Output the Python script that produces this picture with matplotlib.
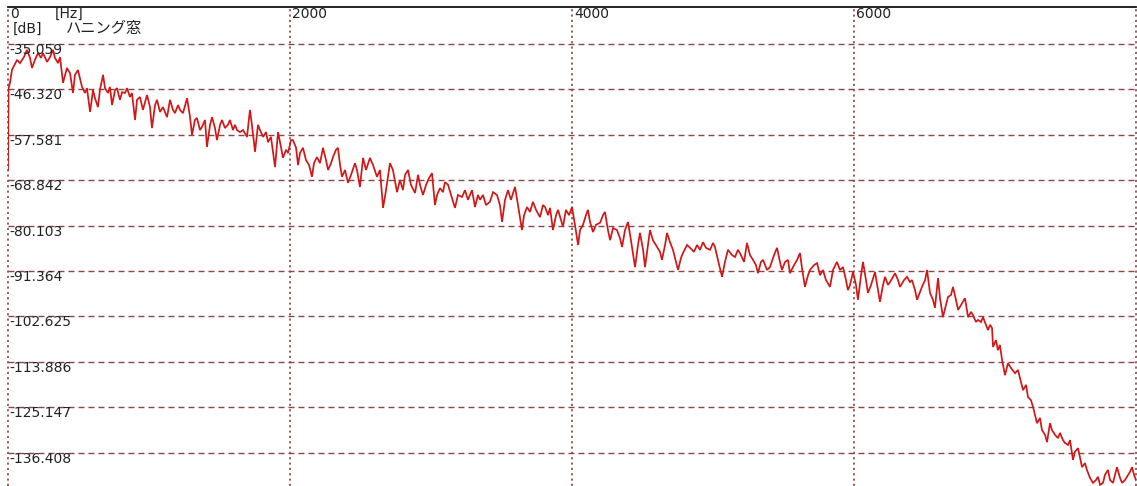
import matplotlib
matplotlib.use("Agg")
import matplotlib.pyplot as plt

# ---------------- data ----------------
freq_hz = [0, 4, 14, 28, 64, 85, 113, 135, 156, 170, 191, 213, 234, 248, 277, 298, 319, 333, 355, 369,
           390, 418, 440, 461, 475, 496, 525, 546, 560, 582, 603, 617, 638, 652, 674, 688, 709, 723, 738, 759,
           773, 794, 809, 830, 844, 865, 879, 901, 915, 936, 957, 986, 1007, 1021, 1043, 1057, 1078, 1099, 1128, 1149,
           1170, 1184, 1206, 1220, 1241, 1270, 1291, 1305, 1326, 1340, 1362, 1376, 1397, 1411, 1433, 1447, 1468, 1482, 1504, 1518,
           1539, 1560, 1574, 1596, 1610, 1624, 1645, 1667, 1695, 1716, 1730, 1752, 1773, 1787, 1809, 1830, 1844, 1865, 1894, 1915,
           1936, 1950, 1972, 1986, 2007, 2021, 2043, 2057, 2071, 2092, 2113, 2135, 2156, 2170, 2191, 2213, 2234, 2255, 2270, 2291,
           2305, 2326, 2340, 2355, 2369, 2390, 2411, 2433, 2461, 2475, 2496, 2518, 2539, 2567, 2589, 2617, 2638, 2660, 2681, 2709,
           2730, 2759, 2780, 2801, 2816, 2837, 2858, 2887, 2908, 2922, 2943, 2965, 2986, 3007, 3028, 3043, 3064, 3085, 3099, 3121,
           3142, 3170, 3191, 3220, 3241, 3262, 3291, 3312, 3333, 3348, 3369, 3390, 3418, 3440, 3468, 3489, 3504, 3525, 3546, 3567,
           3596, 3617, 3645, 3660, 3681, 3702, 3723, 3745, 3773, 3794, 3809, 3830, 3844, 3865, 3887, 3901, 3922, 3936, 3957, 3979,
           4000, 4021, 4043, 4057, 4078, 4099, 4113, 4128, 4149, 4170, 4199, 4220, 4234, 4255, 4270, 4291, 4319, 4340, 4355, 4376,
           4397, 4418, 4447, 4468, 4482, 4504, 4518, 4539, 4553, 4574, 4603, 4624, 4638, 4660, 4674, 4695, 4716, 4738, 4752, 4773,
           4787, 4816, 4837, 4865, 4887, 4908, 4929, 4950, 4979, 5000, 5014, 5035, 5064, 5085, 5106, 5135, 5156, 5177, 5191, 5220,
           5241, 5262, 5284, 5305, 5319, 5340, 5355, 5383, 5404, 5433, 5454, 5475, 5489, 5511, 5532, 5546, 5567, 5596, 5617, 5631,
           5652, 5674, 5688, 5716, 5738, 5759, 5780, 5801, 5830, 5851, 5879, 5901, 5922, 5943, 5957, 5972, 5993, 6014, 6028, 6050,
           6064, 6085, 6099, 6121, 6149, 6170, 6184, 6206, 6220, 6241, 6255, 6277, 6291, 6312, 6326, 6355, 6376, 6397, 6411, 6433,
           6447, 6468, 6482, 6504, 6518, 6539, 6560, 6574, 6596, 6610, 6631, 6652, 6667, 6688, 6702, 6723, 6738, 6759, 6787, 6809,
           6830, 6844, 6865, 6879, 6901, 6915, 6936, 6950, 6965, 6979, 6986, 7007, 7021, 7035, 7050, 7071, 7092, 7113, 7142, 7163,
           7177, 7199, 7220, 7234, 7255, 7270, 7284, 7298, 7319, 7333, 7355, 7369, 7390, 7404, 7426, 7447, 7461, 7482, 7496, 7518,
           7532, 7553, 7567, 7589, 7603, 7617, 7638, 7652, 7674, 7695, 7716, 7730, 7745, 7766, 7780, 7801, 7816, 7837, 7851, 7865,
           7887, 7901, 7922, 7936, 7957, 7972, 7986, 8000]

level_db = [-66.3, -46.0, -44.7, -41.5, -39.0, -39.8, -38.3, -36.5, -38.5, -41.0, -39.0, -37.3, -38.5, -37.3, -39.5, -38.3, -36.5, -38.5, -39.8, -38.3,
            -44.7, -41.0, -42.3, -47.2, -42.7, -41.5, -45.7, -47.2, -46.0, -51.9, -46.5, -48.5, -50.7, -46.5, -42.7, -46.0, -47.2, -45.7, -50.2, -46.5,
            -46.0, -48.9, -47.0, -47.2, -46.0, -48.2, -47.2, -53.9, -48.9, -48.2, -51.4, -47.7, -50.7, -55.9, -50.2, -48.9, -51.9, -50.7, -53.2, -48.9,
            -51.4, -52.2, -50.2, -51.4, -52.2, -48.5, -53.2, -57.6, -53.9, -53.4, -56.4, -55.6, -53.9, -60.6, -55.1, -53.2, -55.9, -58.9, -55.1, -53.9,
            -55.9, -55.1, -53.9, -56.4, -55.1, -56.4, -56.9, -56.4, -58.1, -51.4, -55.1, -61.8, -55.1, -56.4, -58.1, -56.9, -59.4, -58.1, -65.6, -56.9,
            -60.6, -63.3, -61.3, -62.1, -58.9, -58.9, -60.8, -65.1, -62.1, -60.8, -63.8, -65.1, -68.0, -64.6, -63.1, -64.6, -60.8, -63.8, -66.3, -64.6,
            -63.1, -61.3, -60.8, -65.1, -68.0, -66.3, -69.5, -67.5, -64.6, -66.3, -70.5, -63.3, -66.3, -63.3, -65.1, -68.0, -66.3, -75.7, -71.3, -64.6,
            -66.3, -71.8, -68.8, -71.3, -67.5, -66.3, -70.0, -72.0, -67.5, -70.0, -72.5, -70.0, -68.3, -67.1, -75.0, -72.5, -70.8, -71.8, -69.3, -70.0,
            -72.5, -75.7, -72.5, -73.0, -71.3, -73.7, -71.3, -75.5, -72.5, -73.7, -72.5, -75.0, -74.2, -71.8, -72.5, -75.0, -79.2, -73.7, -71.3, -73.7,
            -70.5, -75.0, -81.2, -77.5, -75.5, -76.7, -74.2, -76.2, -78.0, -75.0, -75.5, -77.5, -75.7, -81.2, -77.5, -76.2, -78.7, -80.4, -76.2, -77.5,
            -75.5, -79.9, -84.9, -81.2, -79.9, -77.5, -76.2, -79.2, -81.7, -79.9, -79.4, -77.5, -76.7, -81.2, -83.7, -80.7, -81.2, -83.2, -85.4, -81.2,
            -79.2, -83.7, -90.4, -84.9, -81.9, -86.1, -90.4, -84.9, -81.2, -83.7, -85.4, -86.6, -88.6, -84.9, -81.9, -84.2, -86.1, -89.1, -91.1, -88.1,
            -86.9, -84.9, -85.6, -86.6, -84.9, -86.1, -84.2, -85.6, -86.1, -84.4, -85.4, -88.6, -92.8, -89.1, -86.1, -87.4, -87.9, -86.1, -86.9, -89.1,
            -84.4, -87.4, -88.6, -89.9, -91.9, -89.1, -88.6, -91.1, -90.4, -87.4, -85.6, -89.1, -91.1, -89.1, -88.6, -91.9, -90.4, -88.6, -86.9, -90.6,
            -95.3, -92.4, -91.1, -89.9, -89.4, -92.4, -91.1, -93.6, -95.3, -91.1, -89.1, -91.1, -90.4, -93.6, -96.1, -94.8, -91.6, -94.8, -98.5, -92.4,
            -89.1, -93.6, -96.8, -94.8, -91.6, -96.1, -99.0, -94.8, -92.8, -94.8, -94.1, -92.8, -91.9, -93.6, -95.3, -93.6, -92.8, -94.1, -93.6, -96.1,
            -98.5, -96.6, -95.3, -93.6, -91.1, -96.8, -98.5, -100.5, -93.1, -98.1, -102.8, -99.8, -97.8, -97.3, -95.3, -98.5, -101.0, -99.8, -98.1, -102.8,
            -101.5, -102.3, -104.0, -103.5, -104.0, -102.8, -104.7, -106.0, -104.7, -105.5, -110.2, -108.5, -111.0, -109.7, -113.4, -117.2, -114.2, -115.4, -116.7, -115.9,
            -117.9, -120.9, -119.6, -122.6, -123.4, -125.1, -127.1, -129.1, -127.8, -130.8, -132.0, -133.8, -129.1, -130.8, -132.0, -132.8, -131.5, -133.3, -134.0, -134.5,
            -133.3, -138.2, -136.2, -135.3, -137.7, -140.0, -139.0, -140.7, -142.7, -143.9, -143.2, -142.4, -144.4, -143.9, -141.9, -140.7, -143.2, -143.9, -141.9, -140.0,
            -142.7, -143.9, -143.2, -142.4, -141.2, -140.0, -141.9, -143.2]

y_ticks = [-35.059, -46.320, -57.581, -68.842, -80.103, -91.364, -102.625, -113.886, -125.147, -136.408]
y_tick_labels = ["-35.059", "-46.320", "-57.581", "-68.842", "-80.103", "-91.364",
                 "-102.625", "-113.886", "-125.147", "-136.408"]
x_ticks = [0, 2000, 4000, 6000, 8000]
x_tick_labels = ["0", "2000", "4000", "6000", ""]
x_unit = "[Hz]"
y_unit = "[dB]"
window_name = "ハニング窓"

# ---------------- figure ----------------
W, H = 1137, 486
fig = plt.figure(figsize=(W / 100, H / 100), dpi=100)
fig.patch.set_facecolor("white")
ax = fig.add_axes([8 / W, 0, 1128 / W, 479 / H])
ax.set_xlim(0, 8000)
ax.set_ylim(-144.68, -25.88)

grid_col = "#8a4646"
for yv in y_ticks:
    ax.axhline(yv, color=grid_col, lw=1.0, linestyle=(0, (4.3, 2.9)), zorder=1)
for xv in x_ticks:
    ax.axvline(xv, color=grid_col, lw=1.2, linestyle=(0, (1.3, 1.9)), zorder=1, clip_on=False)

ax.plot(freq_hz, level_db, color="#d01818", lw=1.25, zorder=3, solid_joinstyle="miter")

for s in ["left", "right", "bottom"]:
    ax.spines[s].set_visible(False)
ax.spines["top"].set_color("#111111")
ax.spines["top"].set_linewidth(1.3)
ax.set_xticks([])
ax.set_yticks([])

txt_col = "#222222"
fs = 10
for yv, lab in zip(y_ticks, y_tick_labels):
    ax.annotate(lab, xy=(0, yv), xytext=(1, -6), textcoords="offset pixels",
                ha="left", va="center", fontsize=fs, color=txt_col,
                family="DejaVu Sans", zorder=4)

xtr = ax.get_xaxis_transform()
for xv, lab in zip(x_ticks, x_tick_labels):
    if lab:
        ax.annotate(lab, xy=(xv, 1), xycoords=xtr, xytext=(2, -7), textcoords="offset pixels",
                    ha="left", va="center", fontsize=fs, color=txt_col, family="DejaVu Sans")
ax.annotate(x_unit, xy=(0, 1), xycoords=xtr, xytext=(47, -7), textcoords="offset pixels",
            ha="left", va="center", fontsize=fs, color=txt_col, family="DejaVu Sans")
ax.annotate(y_unit, xy=(0, 1), xycoords=xtr, xytext=(5, -22), textcoords="offset pixels",
            ha="left", va="center", fontsize=fs, color=txt_col, family="DejaVu Sans")
ax.annotate(window_name, xy=(0, 1), xycoords=xtr, xytext=(58, -22), textcoords="offset pixels",
            ha="left", va="center", fontsize=11, color=txt_col,
            family=["Noto Sans CJK JP", "DejaVu Sans"])

fig.savefig("out.png", dpi=100, facecolor="white")
